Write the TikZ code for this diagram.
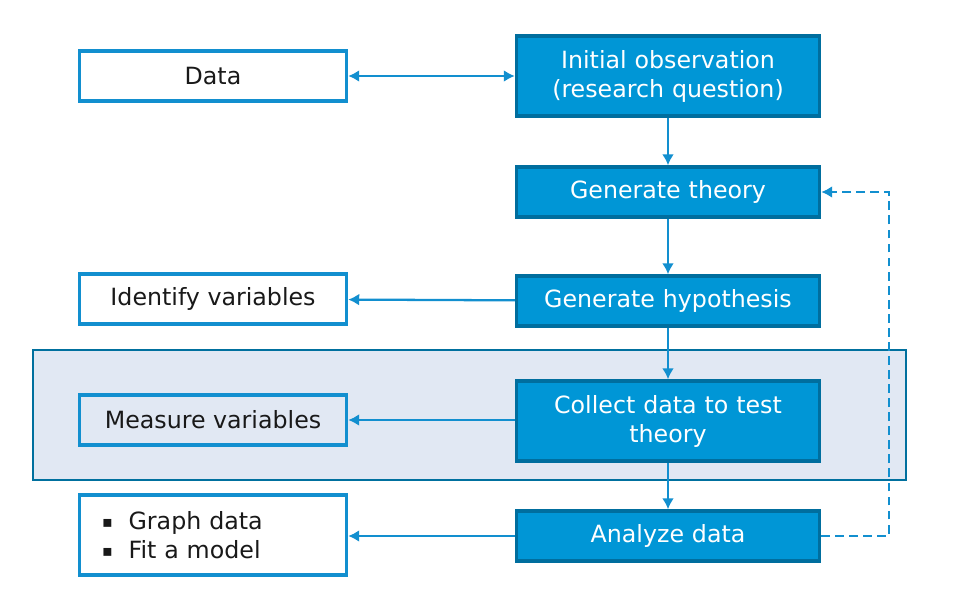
\documentclass[tikz,border=0pt]{standalone}
\usepackage{fontspec}
\setmainfont{DejaVu Sans}
\usetikzlibrary{
    arrows.meta,
    positioning,
    backgrounds
}
\definecolor{stepblue}{RGB}{0,150,214}
\definecolor{stepedge}{RGB}{0,110,158}
\definecolor{linkblue}{RGB}{18,143,207}
\definecolor{bandfill}{RGB}{225,232,243}
\definecolor{bandedge}{RGB}{0,112,158}

\begin{document}
\begin{tikzpicture}[
        x=0.02cm, y=-0.02cm,
        every node/.style={font=\fontsize{13.5}{16.5}\selectfont},
        stepbox/.style={
            rectangle,
            draw=stepedge,
            line width=2pt,
            fill=stepblue,
            text=white,
            minimum width=6.06cm,
            minimum height=1.0cm,
            text width=5.8cm,
            align=center,
            inner sep=2pt
        },
        tallstep/.style={stepbox,minimum height=1.6cm},
        sidebox/.style={
            rectangle,
            draw=linkblue,
            line width=2pt,
            fill=white,
            text=black!90,
            minimum width=5.34cm,
            minimum height=1.0cm,
            align=center,
            inner sep=2pt
        },
        flow/.style={-{Latex[length=2.2mm,width=2.4mm]},line width=1.3pt,draw=linkblue},
        loopback/.style={flow,dash pattern=on 5pt off 3pt},
        band/.style={draw=bandedge,line width=1.2pt,fill=bandfill}
    ]
        \useasboundingbox (0,0) rectangle (962,595);

        \node[tallstep] (observe) at (668,76) {Initial observation\\(research question)};
        \node[stepbox] (theory) at (668,192) {Generate theory};
        \node[stepbox] (hypothesis) at (668,301) {Generate hypothesis};
        \node[tallstep] (collect) at (668,421) {Collect data to test\\theory};
        \node[stepbox] (analyze) at (668,536) {Analyze data};

        \node[sidebox] (data) at (213,76) {Data};
        \node[sidebox] (identify) at (213,299) {Identify variables};
        \node[sidebox, fill=bandfill] (measure) at (213,420) {Measure variables};
        \node[sidebox, minimum height=1.6cm, text width=5.0cm, align=left] (results) at (213,535)
            {\hspace{8pt}\raisebox{1pt}{\fontsize{9}{9}\selectfont ▪}\hspace{9pt}Graph data\\\hspace{8pt}\raisebox{1pt}{\fontsize{9}{9}\selectfont ▪}\hspace{9pt}Fit a model};

        \coordinate (turn) at (889,0);

        \draw[flow,{Latex[length=2.2mm,width=2.4mm]}-{Latex[length=2.2mm,width=2.4mm]}] (data) -- (observe);
        \draw[flow] (observe) -- (theory);
        \draw[flow] (theory) -- (hypothesis);
        \draw[flow] (hypothesis) -- (collect);
        \draw[flow] (collect) -- (analyze);
        \draw[flow] (hypothesis) -- (identify);
        \draw[flow] (collect.west|-measure) -- (measure);
        \draw[flow] (analyze) -- (results.east|-analyze);
        \draw[loopback] (analyze) -| (turn|-analyze) -- (turn|-theory) -- (theory);

        \begin{scope}[on background layer]
            \draw[band] (33,350) rectangle (906,480);
        \end{scope}
    \end{tikzpicture}
\end{document}
